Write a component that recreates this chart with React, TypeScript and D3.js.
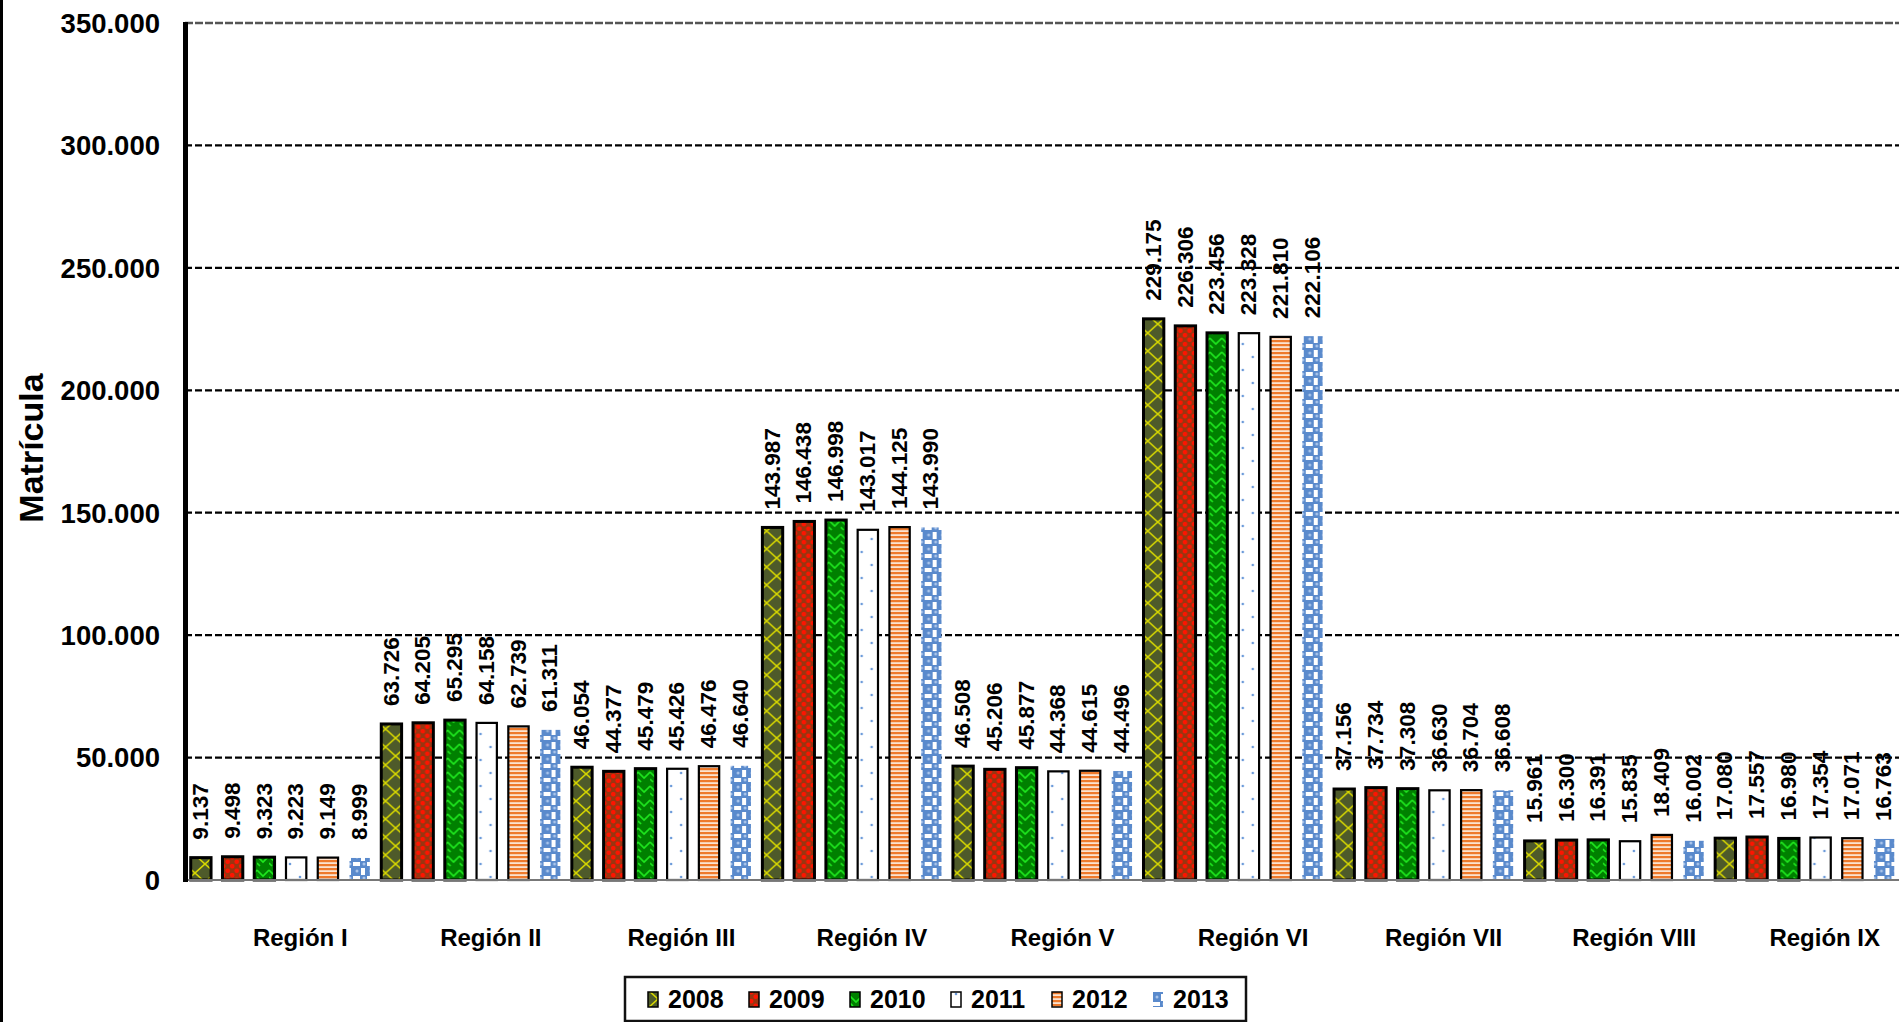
import { useEffect } from "react";
import * as d3 from "d3";

const regions = ["Región I", "Región II", "Región III", "Región IV", "Región V", "Región VI", "Región VII", "Región VIII", "Región IX"];
const years = ["2008", "2009", "2010", "2011", "2012", "2013"];

const v2008 = [9137, 63726, 46054, 143987, 46508, 229175, 37156, 15961, 17080];
const v2009 = [9498, 64205, 44377, 146438, 45206, 226306, 37734, 16300, 17557];
const v2010 = [9323, 65295, 45479, 146998, 45877, 223456, 37308, 16391, 16980];
const v2011 = [9223, 64158, 45426, 143017, 44368, 223328, 36630, 15835, 17354];
const v2012 = [9149, 62739, 46476, 144125, 44615, 221810, 36704, 18409, 17071];
const v2013 = [8999, 61311, 46640, 143990, 44496, 222106, 36608, 16002, 16763];

const yTicks = [0, 50000, 100000, 150000, 200000, 250000, 300000, 350000];

const series = [v2008, v2009, v2010, v2011, v2012, v2013];

const W = 1899;
const H = 1022;

const locale = d3.formatLocale({ decimal: ",", thousands: ".", grouping: [3], currency: ["", ""] });
const fmt = locale.format(",d");

// bar looks per year
const fills = ["url(#p2008)", "url(#p2009)", "url(#p2010)", "url(#p2011)", "url(#p2012)", "url(#p2013)"];
const strokes = ["#000", "#000", "#000", "#000", "#000", "none"];
const strokeW = [3, 3, 3, 2.2, 2.2, 0];

export default function App() {
    useEffect(() => {
        document.body.style.margin = "0";
    }, []);

    const x0 = d3.scaleBand().domain(regions).range([185, 1900]).padding(0);
    const x1 = d3.scaleBand().domain(years).range([0, x0.bandwidth()]).paddingInner(0.36).paddingOuter(0.18);
    const y = d3.scaleLinear().domain([0, 350000]).range([880, 23]);

    const font = "Arial, 'Liberation Sans', sans-serif";

    return (
        <svg width={W} height={H} style={{ display: "block", background: "#fff" }} fontFamily={font}>
            <defs>
                <pattern id="p2008" patternUnits="userSpaceOnUse" width="20" height="18">
                    <rect width="20" height="18" fill="#4E5A2A" />
                    <path d="M0,0 L20,18 M20,0 L0,18" stroke="#D6D600" strokeWidth="1.6" />
                </pattern>
                <pattern id="p2009" patternUnits="userSpaceOnUse" width="9" height="9">
                    <rect width="9" height="9" fill="#9A3510" />
                    <circle cx="2.2" cy="2.2" r="2.3" fill="#FF1400" />
                    <circle cx="6.7" cy="6.7" r="2.3" fill="#FF1400" />
                </pattern>
                <pattern id="p2010" patternUnits="userSpaceOnUse" width="12" height="14">
                    <rect width="12" height="14" fill="#008000" />
                    <path d="M0,2 L6,8 L12,2 M0,9 L3,12" stroke="#1EE61E" strokeWidth="1.6" fill="none" />
                </pattern>
                <pattern id="p2011" patternUnits="userSpaceOnUse" width="20" height="26">
                    <rect width="20" height="26" fill="#fff" />
                    <circle cx="5" cy="6" r="1.3" fill="#6C9BDA" />
                    <circle cx="15" cy="19" r="1.3" fill="#6C9BDA" />
                </pattern>
                <pattern id="p2012" patternUnits="userSpaceOnUse" width="4" height="4">
                    <rect width="4" height="4" fill="#FBE3D0" />
                    <rect y="0" width="4" height="2.2" fill="#EE7A2C" />
                </pattern>
                <pattern id="p2013" patternUnits="userSpaceOnUse" width="14" height="14">
                    <rect width="14" height="14" fill="#fff" />
                    <rect width="8" height="8" fill="#5A8ACC" />
                    <rect x="7" y="7" width="7" height="7" fill="#5A8ACC" />
                    <rect x="12" y="0" width="2" height="8" fill="#5A8ACC" />
                    <rect x="0" y="12" width="8" height="2" fill="#5A8ACC" />
                    <circle cx="4" cy="3" r="1.5" fill="#A9C4EA" />
                    <circle cx="11" cy="10" r="1.5" fill="#A9C4EA" />
                </pattern>
            </defs>

            {/* image border at left */}
            <rect x={0} y={0} width={3} height={H} fill="#000" />

            {/* gridlines */}
            {yTicks.filter(t => t > 0).map(t => (
                <line key={t} x1={185} x2={W} y1={y(t)} y2={y(t)}
                    stroke={t === 350000 ? "#555" : "#000"}
                    strokeWidth={t === 350000 ? 2.5 : 2.2}
                    strokeDasharray={t === 350000 ? "8,2" : "7,3"} />
            ))}

            {/* y tick labels */}
            {yTicks.map(t => (
                <text key={t} x={160} y={y(t)} dy="0.36em" textAnchor="end" fontSize={27.5} fontWeight="bold" fill="#000">
                    {fmt(t)}
                </text>
            ))}

            <text transform={`translate(43,448) rotate(-90)`} textAnchor="middle" fontSize={34} fontWeight="bold">
                Matrícula
            </text>

            {/* bars */}
            {regions.map((r, i) => (
                <g key={r} transform={`translate(${x0(r)},0)`}>
                    {years.map((yr, j) => {
                        const v = series[j][i];
                        const bx = x1(yr)!;
                        return (
                            <rect key={yr} x={bx} y={y(v)} width={x1.bandwidth()} height={y(0) - y(v)}
                                fill={fills[j]} stroke={strokes[j]} strokeWidth={strokeW[j]} />
                        );
                    })}
                    {years.map((yr, j) => {
                        const v = series[j][i];
                        const cx = x1(yr)! + x1.bandwidth() / 2;
                        return (
                            <text key={"l" + yr} transform={`translate(${cx - 1},${y(v) - 18}) rotate(-90)`}
                                dy="0.36em" fontSize={22.5} fontWeight="bold" fill="#000">
                                {fmt(v)}
                            </text>
                        );
                    })}
                </g>
            ))}

            {/* baseline */}
            <line x1={185} x2={W} y1={y(0)} y2={y(0)} stroke="#777" strokeWidth={2} />
            {/* y axis */}
            <line x1={185.5} x2={185.5} y1={y(350000) - 1} y2={y(0) + 2} stroke="#000" strokeWidth={5} />

            {/* region labels */}
            {regions.map(r => (
                <text key={r} x={x0(r)! + x0.bandwidth() / 2 + 20} y={946} textAnchor="middle" fontSize={24} fontWeight="bold">
                    {r}
                </text>
            ))}

            {/* legend */}
            <rect x={625} y={977} width={621} height={44} fill="#fff" stroke="#111" strokeWidth={2.5} />
            {years.map((yr, j) => (
                <g key={yr} transform={`translate(${648 + j * 101},0)`}>
                    <rect x={0} y={992} width={10} height={15} fill={fills[j]}
                        stroke={j === 5 ? "none" : "#000"} strokeWidth={1.5} />
                    <text x={20} y={1008} fontSize={25} fontWeight="bold">{yr}</text>
                </g>
            ))}
        </svg>
    );
}
